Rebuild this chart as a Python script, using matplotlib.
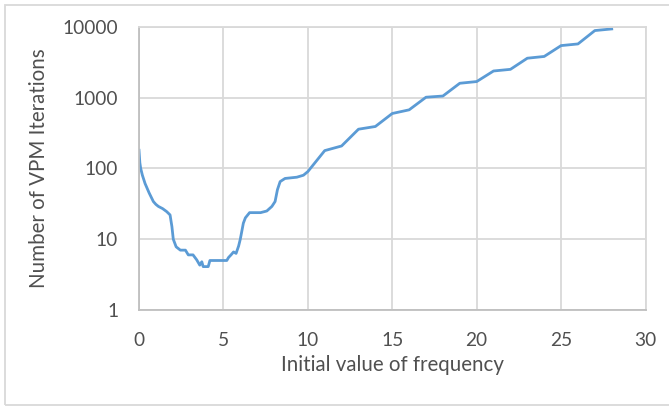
import matplotlib.pyplot as plt
from matplotlib.patches import Rectangle
from matplotlib.ticker import FixedLocator, FixedFormatter

freq = [0, 0.05, 0.1, 0.2, 0.36, 0.6, 0.85, 1.0, 1.15, 1.4, 1.64, 1.84, 1.95, 2.03,
        2.2, 2.45, 2.75, 2.92, 3.2, 3.42, 3.6, 3.72, 3.8, 4.1, 4.2, 5.2, 5.3, 5.45,
        5.6, 5.75, 5.9, 6.0, 6.18, 6.3, 6.55, 7.2, 7.57, 7.87, 8.06, 8.2, 8.36,
        8.65, 9.35, 9.74, 10, 11, 12, 13, 14, 15, 16, 17, 18, 19, 20, 21, 22, 23,
        24, 25, 26, 27, 28]
iters = [180, 120, 100, 80, 61, 45, 34, 31, 29, 27, 24.5, 22, 15, 10,
         7.8, 7, 7, 6, 6, 5.1, 4.3, 4.8, 4.1, 4.1, 5, 5, 5.5, 6,
         6.6, 6.3, 8, 10, 16.8, 20, 23.7, 23.7, 25, 29, 34, 50, 65,
         72, 75, 80, 90, 178, 207, 357, 390, 595, 670, 1010, 1050, 1590, 1680, 2370, 2500, 3590,
         3800, 5410, 5710, 8820, 9300]

y_ticks = [1, 10, 100, 1000, 10000]
y_labels = ["1", "10", "100", "1000", "10000"]
x_ticks = [0, 5, 10, 15, 20, 25, 30]

plt.rcParams['font.family'] = ['Lato', 'DejaVu Sans']
txt = '#505050'
grid = '#d9d9d9'

fig = plt.figure(figsize=(6.69, 4.07), dpi=100)
ax = fig.add_axes([139/669, 1 - 310/407, 506.5/669, 283.3/407])

ax.plot(freq, iters, color='#5b9bd5', lw=2.0, solid_joinstyle='round')
ax.set_yscale('log')
ax.set_ylim(1, 10000)
ax.set_xlim(0, 30)
ax.yaxis.set_major_locator(FixedLocator(y_ticks))
ax.yaxis.set_major_formatter(FixedFormatter(y_labels))
ax.yaxis.set_minor_locator(FixedLocator([]))
ax.set_xticks(x_ticks)

ax.grid(True, color=grid, lw=1.3)
ax.set_axisbelow(True)
for s in ax.spines.values():
    s.set_color(grid)
    s.set_linewidth(1.3)
ax.spines['left'].set_color('#bfbfbf')
ax.spines['bottom'].set_color('#bfbfbf')
ax.tick_params(length=0, labelsize=13.8, colors=txt)
ax.tick_params(axis='y', pad=15)
ax.tick_params(axis='x', pad=16)

ax.set_xlabel("Initial value of frequency", fontsize=14.8, color=txt, labelpad=4)
ax.set_ylabel("Number of VPM Iterations", fontsize=14.8, color=txt, labelpad=10)

fig.add_artist(Rectangle((5/669, 2/407), 1.0, 400/407, transform=fig.transFigure,
                         fill=False, edgecolor=grid, lw=1.3, clip_on=False))

fig.savefig('out.png', dpi=100)
